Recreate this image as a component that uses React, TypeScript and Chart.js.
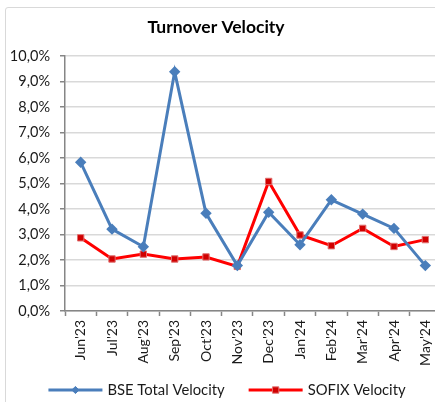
import React, { useEffect, useRef } from "react";
import { Chart, registerables } from "chart.js";

Chart.register(...registerables);

const months = ["Jun'23", "Jul'23", "Aug'23", "Sep'23", "Oct'23", "Nov'23", "Dec'23", "Jan'24", "Feb'24", "Mar'24", "Apr'24", "May'24"];
const bseVelocity = [5.83, 3.21, 2.52, 9.38, 3.83, 1.78, 3.87, 2.6, 4.36, 3.8, 3.24, 1.78];
const sofixVelocity = [2.87, 2.04, 2.23, 2.04, 2.12, 1.75, 5.08, 2.98, 2.56, 3.24, 2.53, 2.8];
const seriesNames = ["BSE Total Velocity", "SOFIX Velocity"];
const titleText = "Turnover Velocity";
const yMin = 0;
const yMax = 10;
const yStep = 1;

const FONT = "Lato, 'Open Sans', sans-serif";
const BLUE = "#4A7EBB";
const RED = "#FF0000";

function drawMarker(ctx: CanvasRenderingContext2D, style: string, x: number, y: number, r: number, fill: string, stroke: string) {
  ctx.save();
  ctx.fillStyle = fill;
  ctx.strokeStyle = stroke;
  ctx.lineWidth = 1;
  ctx.beginPath();
  if (style === "rectRot") {
    ctx.moveTo(x, y - r);
    ctx.lineTo(x + r, y);
    ctx.lineTo(x, y + r);
    ctx.lineTo(x - r, y);
    ctx.closePath();
  } else {
    const s = Math.SQRT1_2 * r;
    ctx.rect(x - s, y - s, 2 * s, 2 * s);
  }
  ctx.fill();
  ctx.stroke();
  ctx.restore();
}

const decorPlugin = {
  id: "decor",
  afterDraw(chart: any) {
    const ctx: CanvasRenderingContext2D = chart.ctx;
    // title
    ctx.save();
    ctx.font = `bold 17.5px ${FONT}`;
    ctx.fillStyle = "#000";
    ctx.textAlign = "center";
    ctx.textBaseline = "middle";
    ctx.fillText(titleText, 210, 19);
    ctx.restore();

    // legend
    ctx.save();
    ctx.font = `14.8px ${FONT}`;
    const lineLen = 54;
    const gapText = 5;
    const gapItem = 24;
    const widths = chart.data.datasets.map((d: any) => ctx.measureText(d.label).width);
    let total = 0;
    widths.forEach((w: number, i: number) => {
      total += lineLen + gapText + w + (i < widths.length - 1 ? gapItem : 0);
    });
    let x = 221 - total / 2;
    const y = chart.height - 12;
    chart.data.datasets.forEach((d: any, i: number) => {
      ctx.strokeStyle = d.borderColor;
      ctx.lineWidth = 3;
      ctx.beginPath();
      ctx.moveTo(x, y);
      ctx.lineTo(x + lineLen, y);
      ctx.stroke();
      drawMarker(ctx, d.pointStyle, x + lineLen / 2, y, d.pointRadius, d.pointBackgroundColor, d.pointBorderColor);
      ctx.fillStyle = "#1a1a1a";
      ctx.textAlign = "left";
      ctx.textBaseline = "middle";
      ctx.fillText(d.label, x + lineLen + gapText, y);
      x += lineLen + gapText + widths[i] + gapItem;
    });
    ctx.restore();
  },
};

export default function App() {
  const ref = useRef<HTMLCanvasElement | null>(null);
  useEffect(() => {
    if (!ref.current) return;
    const chart = new Chart(ref.current, {
      type: "line",
      data: {
        labels: months,
        datasets: [
          {
            label: seriesNames[0],
            data: bseVelocity,
            borderColor: BLUE,
            backgroundColor: BLUE,
            borderWidth: 3,
            pointStyle: "rectRot",
            pointRadius: 3.6,
            pointBackgroundColor: BLUE,
            pointBorderColor: BLUE,
            tension: 0,
          },
          {
            label: seriesNames[1],
            data: sofixVelocity,
            borderColor: RED,
            backgroundColor: RED,
            borderWidth: 3,
            pointStyle: "rect",
            pointRadius: 4.5,
            pointBackgroundColor: "#D00000",
            pointBorderColor: "#E07070",
            pointBorderWidth: 1,
            tension: 0,
          },
        ],
      } as any,
      options: {
        animation: false,
        responsive: false,
        devicePixelRatio: 1,
        layout: { padding: { top: 48, bottom: 31, left: 0, right: 0 } },
        plugins: {
          legend: { display: false },
          title: { display: false },
          tooltip: { enabled: false },
        },
        scales: {
          x: {
            offset: true,
            grid: {
              offset: true,
              drawOnChartArea: false,
              drawTicks: true,
              tickLength: 5,
              tickColor: "#868686",
              tickWidth: 1.5,
            },
            border: { color: "#868686", width: 1.5 },
            ticks: {
              minRotation: 90,
              maxRotation: 90,
              padding: 4,
              color: "#1a1a1a",
              font: { family: FONT, size: 14 },
              autoSkip: false,
            },
            afterFit: (s: any) => {
              s.height = 60;
            },
          },
          y: {
            min: yMin,
            max: yMax,
            grid: {
              color: "#D9D9D9",
              lineWidth: 1.5,
              drawTicks: true,
              tickLength: 5,
              tickColor: "#868686",
            },
            border: { color: "#868686", width: 1.5 },
            ticks: {
              stepSize: yStep,
              padding: 10,
              color: "#1a1a1a",
              font: { family: FONT, size: 14.5 },
              callback: (v: any) => Number(v).toFixed(1).replace(".", ",") + "%",
            },
            afterFit: (s: any) => {
              s.width = 59;
            },
          },
        },
      } as any,
      plugins: [decorPlugin],
    });
    return () => chart.destroy();
  }, []);

  return (
    <div style={{ position: "fixed", left: 0, top: 0, width: 435, height: 402, overflow: "hidden", background: "#fff" }}>
      <div
        style={{
          position: "absolute",
          left: 5,
          top: 7,
          width: 450,
          height: 420,
          border: "1px solid #D9D9D9",
          borderRadius: 3,
        }}
      >
        <canvas ref={ref} width={442} height={394} style={{ display: "block", width: 442, height: 394 }} />
      </div>
    </div>
  );
}
